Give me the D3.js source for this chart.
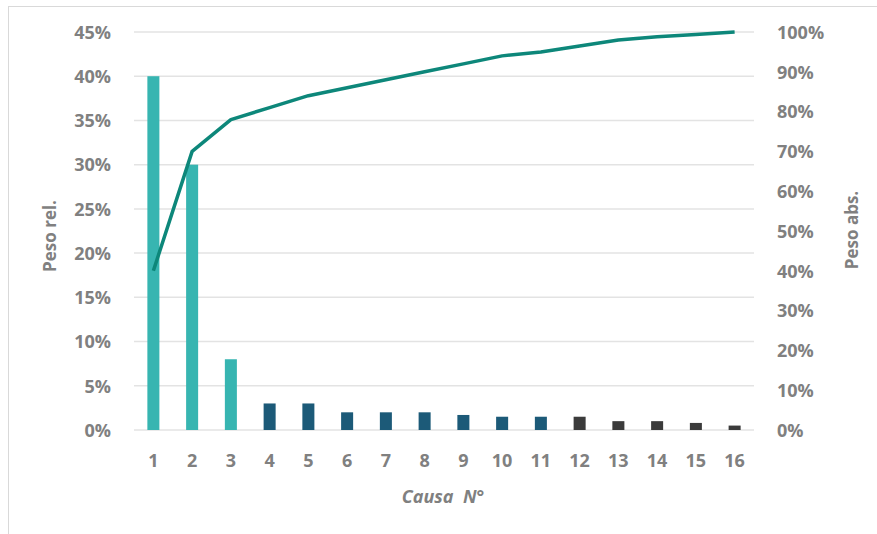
<!DOCTYPE html>
<html>
<head>
<meta charset="utf-8">
<script src="https://cdn.jsdelivr.net/npm/d3@7"></script>
<style>
  html, body { margin: 0; padding: 0; background: #fff; }
  svg { display: block; }
  text { font-family: "Open Sans", "Liberation Sans", sans-serif; font-weight: bold; fill: #808080; }
</style>
</head>
<body>
<svg id="chart" width="877" height="534"></svg>
<script>
// ---- data ----
const categories = ["1","2","3","4","5","6","7","8","9","10","11","12","13","14","15","16"];
const relValues = [0.40, 0.30, 0.08, 0.03, 0.03, 0.02, 0.02, 0.02, 0.017, 0.015, 0.015, 0.015, 0.01, 0.01, 0.008, 0.005];
const cumValues = [0.40, 0.70, 0.78, 0.81, 0.84, 0.86, 0.88, 0.90, 0.92, 0.94, 0.95, 0.965, 0.98, 0.988, 0.994, 1.00];
const groups = ["A","A","A","B","B","B","B","B","B","B","B","C","C","C","C","C"];
const leftTicks = [0, 0.05, 0.10, 0.15, 0.20, 0.25, 0.30, 0.35, 0.40, 0.45];
const rightTicks = [0, 0.1, 0.2, 0.3, 0.4, 0.5, 0.6, 0.7, 0.8, 0.9, 1.0];
const groupColors = { A: "#37b5b1", B: "#1c5a78", C: "#3b3b3b" };
const lineColor = "#0d877a";

const svg = d3.select("#chart");
const margin = { left: 134, right: 123, top: 32, bottom: 104 };
const W = 877, H = 534;
const x0 = margin.left, x1 = W - margin.right;
const y0 = H - margin.bottom, y1 = margin.top;

// frame
svg.append("rect").attr("x", 8.5).attr("y", 6.5).attr("width", 880).attr("height", 540)
  .attr("fill", "none").attr("stroke", "#d9d9d9").attr("stroke-width", 1);

const x = d3.scaleBand().domain(categories).range([x0, x1]).paddingInner(0.69).paddingOuter(0.345);
const yL = d3.scaleLinear().domain([0, 0.45]).range([y0, y1]);
const yR = d3.scaleLinear().domain([0, 1]).range([y0, y1]);

// gridlines
svg.append("g").selectAll("line").data(leftTicks).join("line")
  .attr("x1", x0).attr("x2", x1)
  .attr("y1", d => yL(d)).attr("y2", d => yL(d))
  .attr("stroke", "#e3e3e3").attr("stroke-width", 1.5);

// left axis
const fmtL = d3.format(".0%");
const axL = svg.append("g").attr("transform", `translate(${x0 - 23},0)`)
  .call(d3.axisLeft(yL).tickValues(leftTicks).tickFormat(fmtL).tickSize(0).tickPadding(0));
axL.select(".domain").remove();
axL.selectAll("text").attr("font-size", 18).attr("dy", "0.35em");

// right axis
const axR = svg.append("g").attr("transform", `translate(${x1 + 23},0)`)
  .call(d3.axisRight(yR).tickValues(rightTicks).tickFormat(fmtL).tickSize(0).tickPadding(0));
axR.select(".domain").remove();
axR.selectAll("text").attr("font-size", 18).attr("dy", "0.35em");

// bottom axis
const axB = svg.append("g").attr("transform", `translate(0,${y0 + 31})`)
  .call(d3.axisBottom(x).tickSize(0).tickPadding(0));
axB.select(".domain").remove();
axB.selectAll("text").attr("font-size", 18).attr("dy", "0.35em");

svg.selectAll("g.tick text").attr("fill", "#808080")
  .style("font-family", "'Open Sans', 'Liberation Sans', sans-serif").style("font-weight", "bold");

// bars
svg.append("g").selectAll("rect").data(categories).join("rect")
  .attr("x", d => x(d))
  .attr("width", x.bandwidth())
  .attr("y", (d, i) => yL(relValues[i]))
  .attr("height", (d, i) => y0 - yL(relValues[i]))
  .attr("fill", (d, i) => groupColors[groups[i]]);

// cumulative line
const line = d3.line()
  .x((d, i) => x(categories[i]) + x.bandwidth() / 2)
  .y(d => yR(d));
svg.append("path").datum(cumValues)
  .attr("d", line).attr("fill", "none")
  .attr("stroke", lineColor).attr("stroke-width", 3.5)
  .attr("stroke-linejoin", "round");

// axis titles
svg.append("text").attr("transform", "translate(56,236) rotate(-90)")
  .attr("text-anchor", "middle").attr("font-size", 17).text("Peso rel.");
svg.append("text").attr("transform", "translate(858,230) rotate(-90)")
  .attr("text-anchor", "middle").attr("font-size", 17).text("Peso abs.");
svg.append("text").attr("x", 443).attr("y", 503)
  .attr("text-anchor", "middle").attr("font-size", 18).attr("font-style", "italic")
  .text("Causa  N°").attr("xml:space", "preserve").style("white-space", "pre");
</script>
</body>
</html>
